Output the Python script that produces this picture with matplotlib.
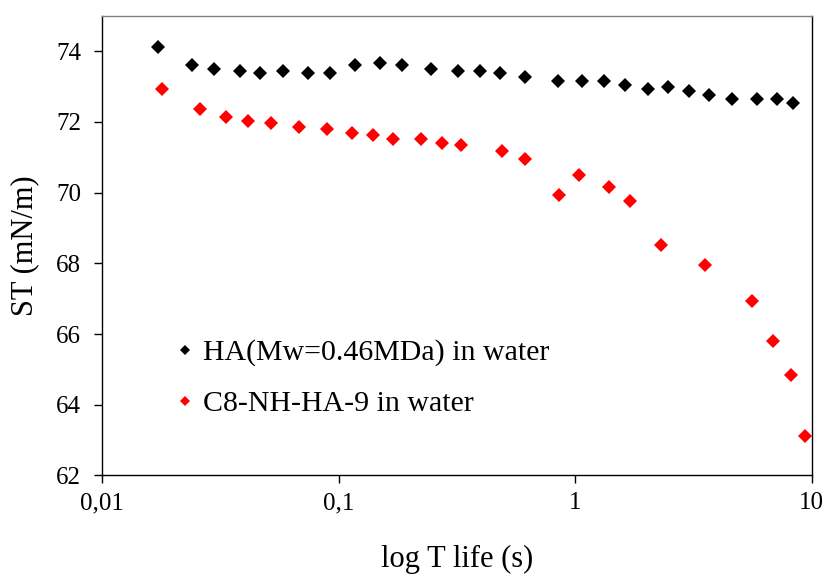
import matplotlib
matplotlib.use("Agg")
import matplotlib.pyplot as plt
from matplotlib.ticker import FixedLocator, FuncFormatter, NullLocator

# HA (Mw=0.46 MDa) in water
ha_t = [0.0172, 0.0239, 0.0297, 0.0382, 0.0466, 0.0584, 0.0740, 0.0917,
        0.1177, 0.1492, 0.1848, 0.2464, 0.3187, 0.3948, 0.4797, 0.6152,
        0.8433, 1.065, 1.319, 1.628, 2.025, 2.460, 3.035, 3.688, 4.585,
        5.867, 7.148, 8.353]
ha_st = [74.12, 73.61, 73.50, 73.44, 73.38, 73.44, 73.38, 73.38,
         73.61, 73.67, 73.61, 73.50, 73.44, 73.44, 73.38, 73.27,
         73.16, 73.16, 73.16, 73.04, 72.93, 72.99, 72.87, 72.75, 72.65,
         72.65, 72.65, 72.52]

# C8-NH-HA-9 in water
c8_t = [0.0179, 0.0259, 0.0333, 0.0413, 0.0520, 0.0682, 0.0896, 0.1136,
        0.1402, 0.1703, 0.2236, 0.2728, 0.3301, 0.4891, 0.6152, 0.8567,
        1.041, 1.393, 1.699, 2.311, 3.548, 5.572, 6.876, 8.191, 9.387]
c8_st = [72.93, 72.36, 72.14, 72.02, 71.97, 71.85, 71.80, 71.68,
         71.63, 71.51, 71.51, 71.40, 71.34, 71.17, 70.95, 69.93,
         70.49, 70.15, 69.76, 68.51, 67.94, 66.92, 65.79, 64.83, 63.13]

x_ticks = [0.01, 0.1, 1, 10]
x_tick_labels = ["0,01", "0,1", "1", "10"]
y_ticks = [62, 64, 66, 68, 70, 72, 74]

plt.rcParams["font.family"] = ["Liberation Serif", "DejaVu Serif"]

fig = plt.figure(figsize=(8.28, 5.79), dpi=100)
ax = fig.add_axes([0.1232, 0.1788, 0.8571, 0.7941])

ax.plot(ha_t, ha_st, "D", color="black", markersize=7, markeredgewidth=0,
        label="HA(Mw=0.46MDa) in water")
ax.plot(c8_t, c8_st, "D", color="#ff0000", markersize=7, markeredgewidth=0,
        label="C8-NH-HA-9 in water")

ax.set_xscale("log")
ax.set_xlim(0.01, 10)
ax.set_ylim(62, 75)
ax.xaxis.set_major_locator(FixedLocator(x_ticks))
ax.xaxis.set_major_formatter(FuncFormatter(lambda v, p: x_tick_labels[x_ticks.index(v)] if v in x_ticks else ""))
ax.xaxis.set_minor_locator(NullLocator())
ax.set_yticks(y_ticks)

ax.tick_params(axis="both", direction="out", length=6, width=1, labelsize=18, colors="black")
ax.tick_params(axis="y", pad=9)
ax.tick_params(axis="x", pad=6)

for s in ["left", "bottom", "right"]:
    ax.spines[s].set_color("black")
    ax.spines[s].set_linewidth(1.0)
ax.spines["top"].set_color("#808080")
ax.spines["top"].set_linewidth(1.0)

ax.set_xlabel("log T life (s)", fontsize=22, labelpad=22)
ax.set_ylabel("ST (mN/m)", fontsize=22, labelpad=12)

ax.legend(loc="upper left", bbox_to_anchor=(0.066, 0.355), frameon=False,
          fontsize=21.5, markerscale=0.7, handlelength=0.6, handletextpad=0.3,
          labelspacing=0.8)

fig.savefig("out.png", dpi=100)
